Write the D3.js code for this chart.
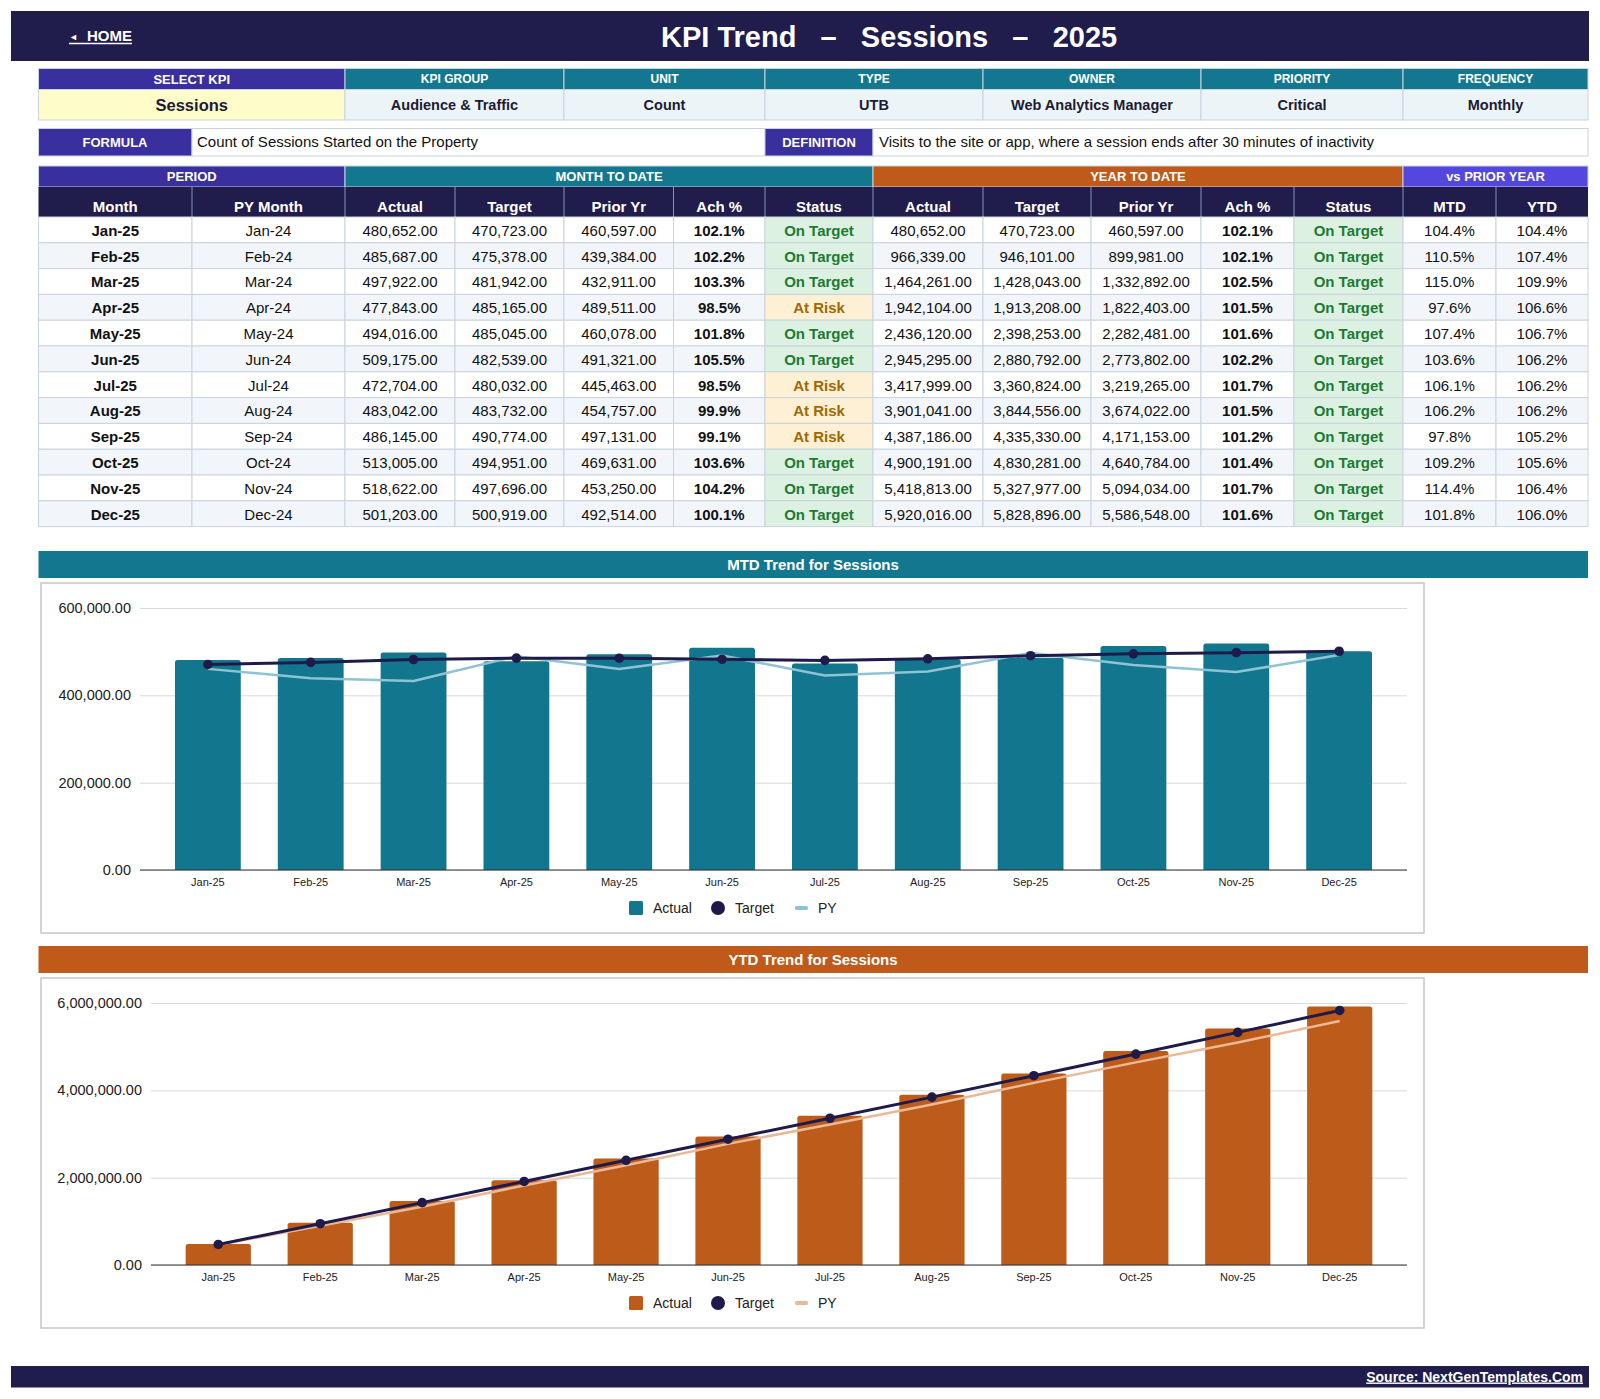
<!DOCTYPE html>
<html>
<head>
<meta charset="utf-8">
<script src="https://cdn.jsdelivr.net/npm/d3@7/dist/d3.min.js"></script>
<style>
  html, body { margin: 0; padding: 0; background: #ffffff; }
  svg { display: block; font-family: "Liberation Sans", Arial, Helvetica, sans-serif; }
</style>
</head>
<body>
<svg id="chart" width="1600" height="1399"></svg>
<script>
// ---------------- DATA ----------------
const titleText = "KPI Trend   \u2013   Sessions   \u2013   2025";
const kpiFields = ["SELECT KPI", "KPI GROUP", "UNIT", "TYPE", "OWNER", "PRIORITY", "FREQUENCY"];
const kpiValues = ["Sessions", "Audience & Traffic", "Count", "UTB", "Web Analytics Manager", "Critical", "Monthly"];
const formulaText = "Count of Sessions Started on the Property";
const definitionText = "Visits to the site or app, where a session ends after 30 minutes of inactivity";

const months = ["Jan-25","Feb-25","Mar-25","Apr-25","May-25","Jun-25","Jul-25","Aug-25","Sep-25","Oct-25","Nov-25","Dec-25"];
const pyMonths = ["Jan-24","Feb-24","Mar-24","Apr-24","May-24","Jun-24","Jul-24","Aug-24","Sep-24","Oct-24","Nov-24","Dec-24"];

const mtdActual = [480652,485687,497922,477843,494016,509175,472704,483042,486145,513005,518622,501203];
const mtdTarget = [470723,475378,481942,485165,485045,482539,480032,483732,490774,494951,497696,500919];
const mtdPrior  = [460597,439384,432911,489511,460078,491321,445463,454757,497131,469631,453250,492514];
const mtdAch    = [102.1,102.2,103.3,98.5,101.8,105.5,98.5,99.9,99.1,103.6,104.2,100.1];
const mtdStatus = ["On Target","On Target","On Target","At Risk","On Target","On Target","At Risk","At Risk","At Risk","On Target","On Target","On Target"];

const ytdActual = [480652,966339,1464261,1942104,2436120,2945295,3417999,3901041,4387186,4900191,5418813,5920016];
const ytdTarget = [470723,946101,1428043,1913208,2398253,2880792,3360824,3844556,4335330,4830281,5327977,5828896];
const ytdPrior  = [460597,899981,1332892,1822403,2282481,2773802,3219265,3674022,4171153,4640784,5094034,5586548];
const ytdAch    = [102.1,102.1,102.5,101.5,101.6,102.2,101.7,101.5,101.2,101.4,101.7,101.6];
const ytdStatus = ["On Target","On Target","On Target","On Target","On Target","On Target","On Target","On Target","On Target","On Target","On Target","On Target"];

const vsPyMtd = [104.4,110.5,115.0,97.6,107.4,103.6,106.1,106.2,97.8,109.2,114.4,101.8];
const vsPyYtd = [104.4,107.4,109.9,106.6,106.7,106.2,106.2,106.2,105.2,105.6,106.4,106.0];

const groupHeaders = ["PERIOD", "MONTH TO DATE", "YEAR TO DATE", "vs PRIOR YEAR"];
const columnHeaders = ["Month","PY Month","Actual","Target","Prior Yr","Ach %","Status","Actual","Target","Prior Yr","Ach %","Status","MTD","YTD"];

const mtdTicks = [0, 200000, 400000, 600000];
const ytdTicks = [0, 2000000, 4000000, 6000000];
const legendLabels = ["Actual", "Target", "PY"];

// ---------------- STYLE ----------------
const C = {
  navy: "#201c4c", indigo: "#3a2f9f", teal: "#13788f", orange: "#bf5a1b", violet: "#5447dd",
  yellow: "#fefdca", light: "#edf4f7", stripe: "#f2f6fa", border: "#c9d3de",
  green: "#dcf1e1", greenText: "#1d7a34", amber: "#fdf0d4", amberText: "#9e6a05",
  text: "#111111", valText: "#1c1b33",
  mtdBar: "#12768f", ytdBar: "#bd5b1a", target: "#1e1b4b", mtdPy: "#8fc3d3", ytdPy: "#ebb996"
};
const FONT = '"Liberation Sans", Arial, Helvetica, sans-serif';
const svg = d3.select("#chart");
const fmt2 = d3.format(",.2f");
const fmtPct = v => v.toFixed(1) + "%";

function rect(x, y, w, h, fill, stroke) {
  return svg.append("rect").attr("x", x).attr("y", y).attr("width", w).attr("height", h)
    .attr("fill", fill).attr("stroke", stroke || "none").attr("stroke-width", stroke ? 1 : 0);
}
function text(x, y, str, opts) {
  opts = opts || {};
  return svg.append("text").attr("x", x).attr("y", y)
    .attr("text-anchor", opts.anchor || "middle")
    .attr("font-size", opts.size || 15)
    .attr("font-weight", opts.bold ? "bold" : "normal")
    .attr("fill", opts.fill || C.text)
    .attr("dy", "0.36em")
    .style("white-space", "pre")
    .text(str);
}

// ---------------- HEADER ----------------
rect(11, 11, 1578, 50, C.navy);
svg.append("text").attr("x", 69).attr("y", 40).attr("font-size", 9).attr("fill", "#fff").text("\u25C4");
svg.append("text").attr("x", 87).attr("y", 41).attr("font-size", 15).attr("font-weight", "bold").attr("fill", "#fff").text("HOME");
svg.append("line").attr("x1", 69).attr("x2", 132).attr("y1", 43.5).attr("y2", 43.5).attr("stroke", "#fff").attr("stroke-width", 1.3);
svg.append("text").attr("x", 661).attr("y", 46.5).attr("font-size", 29).attr("font-weight", "bold")
  .attr("fill", "#fff").style("white-space", "pre").text(titleText);

// ---------------- KPI INFO ----------------
const infoX = [38.5, 345, 564, 765, 983, 1201, 1403, 1588];
kpiFields.forEach((f, i) => {
  const x0 = infoX[i], x1 = infoX[i + 1];
  rect(x0, 68.5, x1 - x0, 21, i === 0 ? C.indigo : C.teal, C.border);
  text((x0 + x1) / 2, 79, f, { size: i === 0 ? 13 : 12, bold: true, fill: "#fff" });
  rect(x0, 89.5, x1 - x0, 30.5, i === 0 ? C.yellow : C.light, C.border);
  text((x0 + x1) / 2, 105, kpiValues[i], { size: i === 0 ? 16.5 : 14.5, bold: true, fill: C.valText });
});

// Formula / Definition
rect(38.5, 128.5, 153.5, 27.5, C.indigo, C.border);
text(115, 142, "FORMULA", { size: 13, bold: true, fill: "#fff" });
rect(192, 128.5, 573, 27.5, "#fff", C.border);
text(197, 142, formulaText, { size: 15, anchor: "start" });
rect(765, 128.5, 108, 27.5, C.indigo, C.border);
text(819, 142, "DEFINITION", { size: 13, bold: true, fill: "#fff" });
rect(873, 128.5, 715, 27.5, "#fff", C.border);
text(879, 142, definitionText, { size: 15, anchor: "start" });

// ---------------- MAIN TABLE ----------------
const colX = [38.5, 192, 345, 455, 564, 673.5, 765, 873, 983, 1091, 1201, 1294, 1403, 1496, 1588];
const groupSpans = [[0, 2, C.indigo], [2, 7, C.teal], [7, 12, C.orange], [12, 14, C.violet]];
groupSpans.forEach((g, i) => {
  const x0 = colX[g[0]], x1 = colX[g[1]];
  rect(x0, 166, x1 - x0, 21, g[2], C.border);
  text((x0 + x1) / 2, 176.5, groupHeaders[i], { size: 13, bold: true, fill: "#fff" });
});
rect(38.5, 187, 1588 - 38.5, 30, C.navy);
columnHeaders.forEach((h, i) => {
  const x0 = colX[i], x1 = colX[i + 1];
  if (i > 0) svg.append("line").attr("x1", x0).attr("x2", x0).attr("y1", 187).attr("y2", 217)
    .attr("stroke", "#8790bb").attr("stroke-width", 1);
  text((x0 + x1) / 2, 206.3, h, { size: 15, bold: true, fill: "#fff" });
});

const rowTop = 217, rowH = 25.8;
months.forEach((m, r) => {
  const y = rowTop + r * rowH;
  const cells = [
    { t: m, b: true },
    { t: pyMonths[r] },
    { t: fmt2(mtdActual[r]) },
    { t: fmt2(mtdTarget[r]) },
    { t: fmt2(mtdPrior[r]) },
    { t: fmtPct(mtdAch[r]), b: true },
    { t: mtdStatus[r], status: true },
    { t: fmt2(ytdActual[r]) },
    { t: fmt2(ytdTarget[r]) },
    { t: fmt2(ytdPrior[r]) },
    { t: fmtPct(ytdAch[r]), b: true },
    { t: ytdStatus[r], status: true },
    { t: fmtPct(vsPyMtd[r]) },
    { t: fmtPct(vsPyYtd[r]) }
  ];
  cells.forEach((c, i) => {
    const x0 = colX[i], x1 = colX[i + 1];
    let bg = r % 2 === 1 ? C.stripe : "#ffffff";
    let fill = C.text;
    if (c.status) {
      const ok = c.t === "On Target";
      bg = ok ? C.green : C.amber;
      fill = ok ? C.greenText : C.amberText;
    }
    rect(x0, y, x1 - x0, rowH, bg, C.border);
    text((x0 + x1) / 2, y + rowH / 2 + 0.5, c.t, { size: 15, bold: c.b || c.status, fill: fill });
  });
});

// ---------------- CHARTS ----------------
function drawChart(cfg) {
  // title bar
  rect(38.5, cfg.barY, 1588 - 38.5, 27, cfg.titleColor);
  text(813, cfg.barY + 13.5, cfg.title, { size: 15, bold: true, fill: "#fff" });
  // box
  svg.append("rect").attr("x", 41).attr("y", cfg.boxY).attr("width", 1383).attr("height", 350)
    .attr("fill", "#fff").attr("stroke", "#c6c6c6").attr("stroke-width", 1.5);

  const top = cfg.boxY + 25, bottom = cfg.boxY + 287;
  const x = d3.scaleBand().domain(months).range([cfg.left, 1407]).paddingInner(0.36).paddingOuter(0.34);
  const y = d3.scaleLinear().domain([0, cfg.ticks[cfg.ticks.length - 1]]).range([bottom, top]);
  const g = svg.append("g");

  const yAxis = d3.axisLeft(y).tickValues(cfg.ticks).tickFormat(fmt2)
    .tickSizeInner(-(1407 - cfg.left)).tickSizeOuter(0).tickPadding(9);
  const ya = g.append("g").attr("transform", `translate(${cfg.left},0)`).call(yAxis);
  ya.select(".domain").remove();
  ya.selectAll(".tick line").attr("stroke", "#d9d9d9").attr("stroke-width", 1);
  ya.selectAll(".tick text").attr("font-size", 14.5).attr("fill", "#222").attr("font-family", FONT);

  // bars with rounded top corners
  const r = 2.5;
  g.append("g").selectAll("path").data(cfg.actual).join("path")
    .attr("fill", cfg.barColor)
    .attr("d", (d, i) => {
      const x0 = x(months[i]), w = x.bandwidth(), y0 = y(d), yb = y(0);
      return `M${x0},${yb}V${y0 + r}Q${x0},${y0} ${x0 + r},${y0}H${x0 + w - r}Q${x0 + w},${y0} ${x0 + w},${y0 + r}V${yb}Z`;
    });

  // baseline
  g.append("line").attr("x1", cfg.left).attr("x2", 1407).attr("y1", y(0)).attr("y2", y(0))
    .attr("stroke", "#333").attr("stroke-width", 1.2);

  const cx = m => x(m) + x.bandwidth() / 2;
  const line = d3.line().x((d, i) => cx(months[i])).y(d => y(d));
  g.append("path").datum(cfg.prior).attr("d", line).attr("fill", "none")
    .attr("stroke", cfg.pyColor).attr("stroke-width", 2.5).attr("stroke-linejoin", "round");
  g.append("path").datum(cfg.target).attr("d", line).attr("fill", "none")
    .attr("stroke", C.target).attr("stroke-width", 3).attr("stroke-linejoin", "round");
  g.append("g").selectAll("circle").data(cfg.target).join("circle")
    .attr("cx", (d, i) => cx(months[i])).attr("cy", d => y(d)).attr("r", 4.8).attr("fill", C.target);

  // x axis labels
  const xAxis = d3.axisBottom(x).tickSize(0).tickPadding(8);
  const xa = g.append("g").attr("transform", `translate(0,${bottom})`).call(xAxis);
  xa.select(".domain").remove();
  xa.selectAll(".tick text").attr("font-size", 11).attr("fill", "#222").attr("font-family", FONT);

  // legend
  const ly = cfg.boxY + 325;
  const lg = svg.append("g");
  lg.append("rect").attr("x", 629).attr("y", ly - 7).attr("width", 14).attr("height", 14).attr("rx", 1.5).attr("fill", cfg.barColor);
  lg.append("text").attr("x", 653).attr("y", ly).attr("dy", "0.36em").attr("font-size", 14).attr("fill", "#222").text(legendLabels[0]);
  lg.append("circle").attr("cx", 718).attr("cy", ly).attr("r", 7).attr("fill", C.target);
  lg.append("text").attr("x", 735).attr("y", ly).attr("dy", "0.36em").attr("font-size", 14).attr("fill", "#222").text(legendLabels[1]);
  lg.append("rect").attr("x", 795).attr("y", ly - 2).attr("width", 13).attr("height", 4).attr("rx", 1.5).attr("fill", cfg.pyColor);
  lg.append("text").attr("x", 818).attr("y", ly).attr("dy", "0.36em").attr("font-size", 14).attr("fill", "#222").text(legendLabels[2]);
}

drawChart({
  title: "MTD Trend for Sessions", titleColor: C.teal, barY: 551, boxY: 583, left: 140,
  ticks: mtdTicks, actual: mtdActual, target: mtdTarget, prior: mtdPrior,
  barColor: C.mtdBar, pyColor: C.mtdPy
});
drawChart({
  title: "YTD Trend for Sessions", titleColor: C.orange, barY: 946, boxY: 978, left: 151,
  ticks: ytdTicks, actual: ytdActual, target: ytdTarget, prior: ytdPrior,
  barColor: C.ytdBar, pyColor: C.ytdPy
});

// ---------------- FOOTER ----------------
rect(11, 1366, 1578, 21.5, C.navy);
svg.append("text").attr("x", 1583).attr("y", 1381.5).attr("text-anchor", "end").attr("font-size", 14)
  .attr("font-weight", "bold").attr("fill", "#fff").attr("text-decoration", "underline")
  .text("Source: NextGenTemplates.Com");
</script>
</body>
</html>
